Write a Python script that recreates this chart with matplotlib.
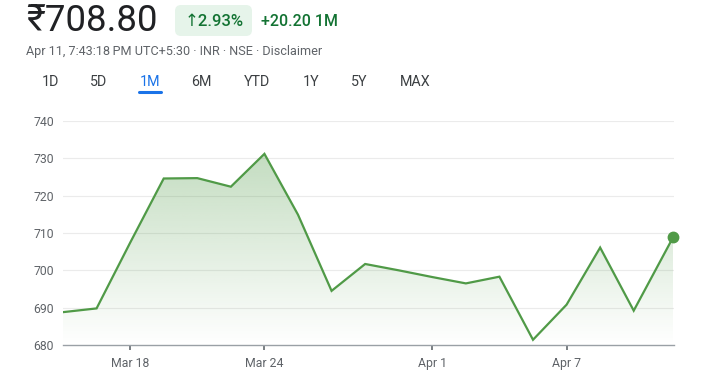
import numpy as np
import matplotlib
matplotlib.use('Agg')
import matplotlib.pyplot as plt
from matplotlib.patches import FancyBboxPatch
from matplotlib.colors import to_rgb

# ---- data ----
day_pos = [0, 1, 2, 3, 4, 5, 6, 7, 8, 9, 10, 11, 12, 13, 14, 15, 16, 17, 18.17]
prices = [688.8, 689.8, 707.4, 724.6, 724.7, 722.4, 731.2, 714.9, 694.5, 701.7,
          700.0, 698.2, 696.5, 698.3, 681.4, 690.8, 706.1, 689.2, 708.8]
x_tick_pos = [2, 6, 11, 15]
x_tick_labels = ['Mar 18', 'Mar 24', 'Apr 1', 'Apr 7']
y_ticks = [680, 690, 700, 710, 720, 730, 740]
tab_labels = ['1D', '5D', '1M', '6M', 'YTD', '1Y', '5Y', 'MAX']
tab_centers = [50, 99, 150, 201, 257, 311, 359, 415]
active_tab = '1M'
price_text = '₹708.80'
change_pct_text = '↑2.93%'
change_abs_text = '+20.20 1M'
subtitle_text = 'Apr 11, 7:43:18\u202fPM UTC+5:30 · INR · NSE · Disclaimer'

FONT = ['Roboto', 'DejaVu Sans']
plt.rcParams['font.family'] = FONT

W, H = 723, 380
fig = plt.figure(figsize=(W / 100, H / 100), dpi=100)
fig.patch.set_facecolor('white')

# ---- header overlay in pixel coordinates ----
hx = fig.add_axes([0, 0, 1, 1], zorder=-1)
hx.set_xlim(0, W)
hx.set_ylim(H, 0)
hx.axis('off')

hx.text(26, 21, price_text, fontsize=26.4, color='#202124', va='center', ha='left',
        family=FONT)
badge = FancyBboxPatch((175, 5), 77, 31, boxstyle='round,pad=0,rounding_size=6',
                       facecolor='#e6f4ea', edgecolor='none')
hx.add_patch(badge)
hx.text(214, 21, change_pct_text, fontsize=12, color='#137333', va='center',
        ha='center', fontweight='medium', family=FONT)
hx.text(261, 21, change_abs_text, fontsize=11.5, color='#137333', va='center',
        ha='left', fontweight='medium', family=FONT)
hx.text(26, 52, subtitle_text, fontsize=9.1, color='#5f6368', va='center', ha='left',
        family=FONT)

for lab, cx in zip(tab_labels, tab_centers):
    active = lab == active_tab
    hx.text(cx, 81.5, lab, fontsize=10.3, color='#1a73e8' if active else '#3c4043',
            va='center', ha='center', family=FONT)
    if active:
        hx.plot([cx - 11, cx + 11], [91.5, 91.5], color='#1a73e8', lw=2.2,
                solid_capstyle='round')

# ---- chart ----
ax = fig.add_axes([63 / W, 35 / H, 611 / W, 224 / H])
ax.set_facecolor('none')
line_color = '#509a47'

ax.set_xlim(0, 18.2)
ax.set_ylim(680, 740)

for yv in y_ticks[1:]:
    ax.axhline(yv, color='#ebebeb', lw=0.8, zorder=0)

# gradient fill
poly = ax.fill_between(day_pos, prices, 680, facecolor='none', edgecolor='none')
top = max(prices)
n = 256
alpha = np.linspace(0.0, 0.34, n)[:, None]
rgb = np.array(to_rgb(line_color))
img = np.zeros((n, 2, 4))
img[..., :3] = rgb
img[..., 3] = alpha
im = ax.imshow(img, extent=[day_pos[0], day_pos[-1], 680, top], origin='lower',
               aspect='auto', zorder=1, interpolation='bicubic')
path = poly.get_paths()[0]
im.set_clip_path(path, transform=ax.transData)
ax.set_xlim(0, 18.2)
ax.set_ylim(680, 740)

ax.plot(day_pos, prices, color=line_color, lw=1.6, zorder=3, solid_joinstyle='miter')
ax.plot([day_pos[-1]], [prices[-1]], 'o', color=line_color, ms=7.5, zorder=4,
        clip_on=False)

for s in ['top', 'right', 'left']:
    ax.spines[s].set_visible(False)
ax.spines['bottom'].set_color('#9aa0a6')
ax.spines['bottom'].set_linewidth(1.0)

ax.set_yticks(y_ticks)
ax.set_yticklabels([str(v) for v in y_ticks])
ax.tick_params(axis='y', length=0, pad=6.5, labelsize=8.8, labelcolor='#5f6368')
ax.set_xticks(x_tick_pos)
ax.set_xticklabels(x_tick_labels)
ax.tick_params(axis='x', length=3.5, width=1.3, color='#70757a', pad=5,
               labelsize=8.8, labelcolor='#5f6368')

fig.savefig('out.png', dpi=100, facecolor='white')
